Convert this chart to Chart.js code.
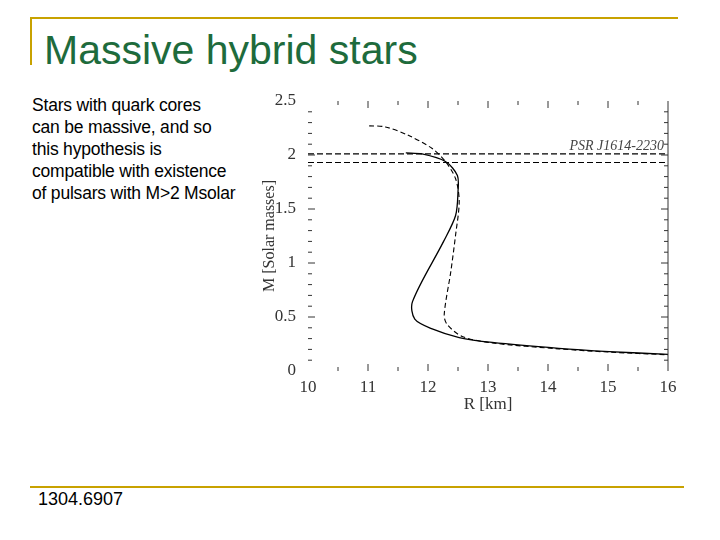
<!DOCTYPE html>
<html><head><meta charset="utf-8">
<script src="https://cdn.jsdelivr.net/npm/chart.js@4"></script>
<style>
body{margin:0;width:720px;height:540px;background:#fff;position:relative;overflow:hidden;font-family:"Liberation Sans",Arial,sans-serif}
.t{position:absolute}
</style></head><body>
<div class="t" style="left:30px;top:17px;width:648px;height:2px;background:#c8a200"></div>
<div class="t" style="left:30px;top:17px;width:2px;height:48px;background:#c8a200"></div>
<div class="t" style="left:30px;top:486px;width:654px;height:2px;background:#c8a200"></div>
<div class="t" style="left:44px;top:27px;font-size:41px;color:#1e6b3c">Massive hybrid stars</div>
<div class="t" style="left:32px;top:94px;font-size:17.5px;line-height:22px;color:#000;letter-spacing:-0.2px">Stars with quark cores<br>can be massive, and so<br>this hypothesis is<br>compatible with existence<br>of pulsars with M&gt;2 Msolar</div>
<div class="t" style="left:38px;top:489px;font-size:18px;color:#000">1304.6907</div>
<div class="t" style="left:260px;top:85px;width:420px;height:330px"><canvas id="c"></canvas></div>
<script>
const solidR=[11.63,11.9,12.29,12.49,12.5,12.46,12.26,11.74,11.78,12.07,12.52,13.07,14.18,15.02,16];
const solidM=[2.02,2.01,1.94,1.81,1.66,1.44,1.20,0.64,0.48,0.39,0.31,0.265,0.21,0.18,0.154];
const dashR=[11.02,11.29,11.68,12.07,12.29,12.46,12.52,12.46,12.38,12.27,12.32,12.57,13.07,14.18,15.02,16];
const dashM=[2.27,2.26,2.18,2.06,1.94,1.78,1.57,1.26,0.92,0.52,0.43,0.32,0.26,0.205,0.175,0.15];
const psrM=[2.01,1.93];
const xTicks=[10,11,12,13,14,15,16];
const yTicks=[0,0.5,1,1.5,2,2.5];
const pts=(a,b)=>a.map((v,i)=>({x:v,y:b[i]}));
const serif='"Liberation Serif","DejaVu Serif",serif';
const deco={id:'deco',afterDraw(ch){const c=ch.ctx,x=ch.scales.x,y=ch.scales.y;c.save();c.strokeStyle='#333';c.lineWidth=1;
c.beginPath();c.moveTo(x.getPixelForValue(16),y.getPixelForValue(0));c.lineTo(x.getPixelForValue(16),y.getPixelForValue(2.5));c.stroke();
for(let v=0.1;v<=2.4001;v+=0.1){const p=y.getPixelForValue(v),L=Math.abs(v*2-Math.round(v*2))<1e-6?7:4;
c.beginPath();c.moveTo(x.left,p);c.lineTo(x.left+L,p);c.moveTo(x.right,p);c.lineTo(x.right-L,p);c.stroke();}
for(let v=10.5;v<=15.501;v+=0.5){const p=x.getPixelForValue(v),L=Number.isInteger(v)?7:4;
c.beginPath();c.moveTo(p,y.top);c.lineTo(p,y.top+L);c.moveTo(p,y.bottom);c.lineTo(p,y.bottom-L);c.stroke();}
c.fillStyle='#444';c.font='italic 14px '+serif;c.textAlign='right';c.fillText('PSR J1614-2230',x.right-4,y.getPixelForValue(2.05));
c.restore();}};
new Chart(document.getElementById('c'),{type:'scatter',
data:{datasets:[
{data:pts(solidR,solidM),showLine:true,borderColor:'#000',borderWidth:1.3,pointRadius:0,tension:0.3},
{data:pts(dashR,dashM),showLine:true,borderColor:'#000',borderWidth:1.1,borderDash:[5,3],pointRadius:0,tension:0.3},
{data:pts([10,16],[psrM[0],psrM[0]]),showLine:true,borderColor:'#000',borderWidth:1.1,borderDash:[6,3],pointRadius:0},
{data:pts([10,16],[psrM[1],psrM[1]]),showLine:true,borderColor:'#000',borderWidth:1.1,borderDash:[6,3],pointRadius:0}]},
plugins:[deco],
options:{responsive:true,maintainAspectRatio:false,animation:false,
layout:{padding:{left:0,right:12,top:16,bottom:0}},
plugins:{legend:{display:false},tooltip:{enabled:false}},
scales:{
x:{type:'linear',min:10,max:16,afterBuildTicks:a=>{a.ticks=xTicks.map(v=>({value:v}))},
afterFit:a=>{a.height=44},grid:{display:false},border:{display:false},
ticks:{color:'#333',font:{family:serif,size:17},padding:-2,maxRotation:0},
title:{display:true,text:'R [km]',color:'#333',font:{family:serif,size:17},padding:0}},
y:{type:'linear',min:0,max:2.5,afterBuildTicks:a=>{a.ticks=yTicks.map(v=>({value:v}))},
afterFit:a=>{a.width=48},grid:{display:false},border:{display:false},
ticks:{color:'#333',font:{family:serif,size:17},padding:4,callback:v=>String(v)},
title:{display:true,text:'M [Solar masses]',color:'#333',font:{family:serif,size:16},padding:0}}}}});
</script></body></html>
